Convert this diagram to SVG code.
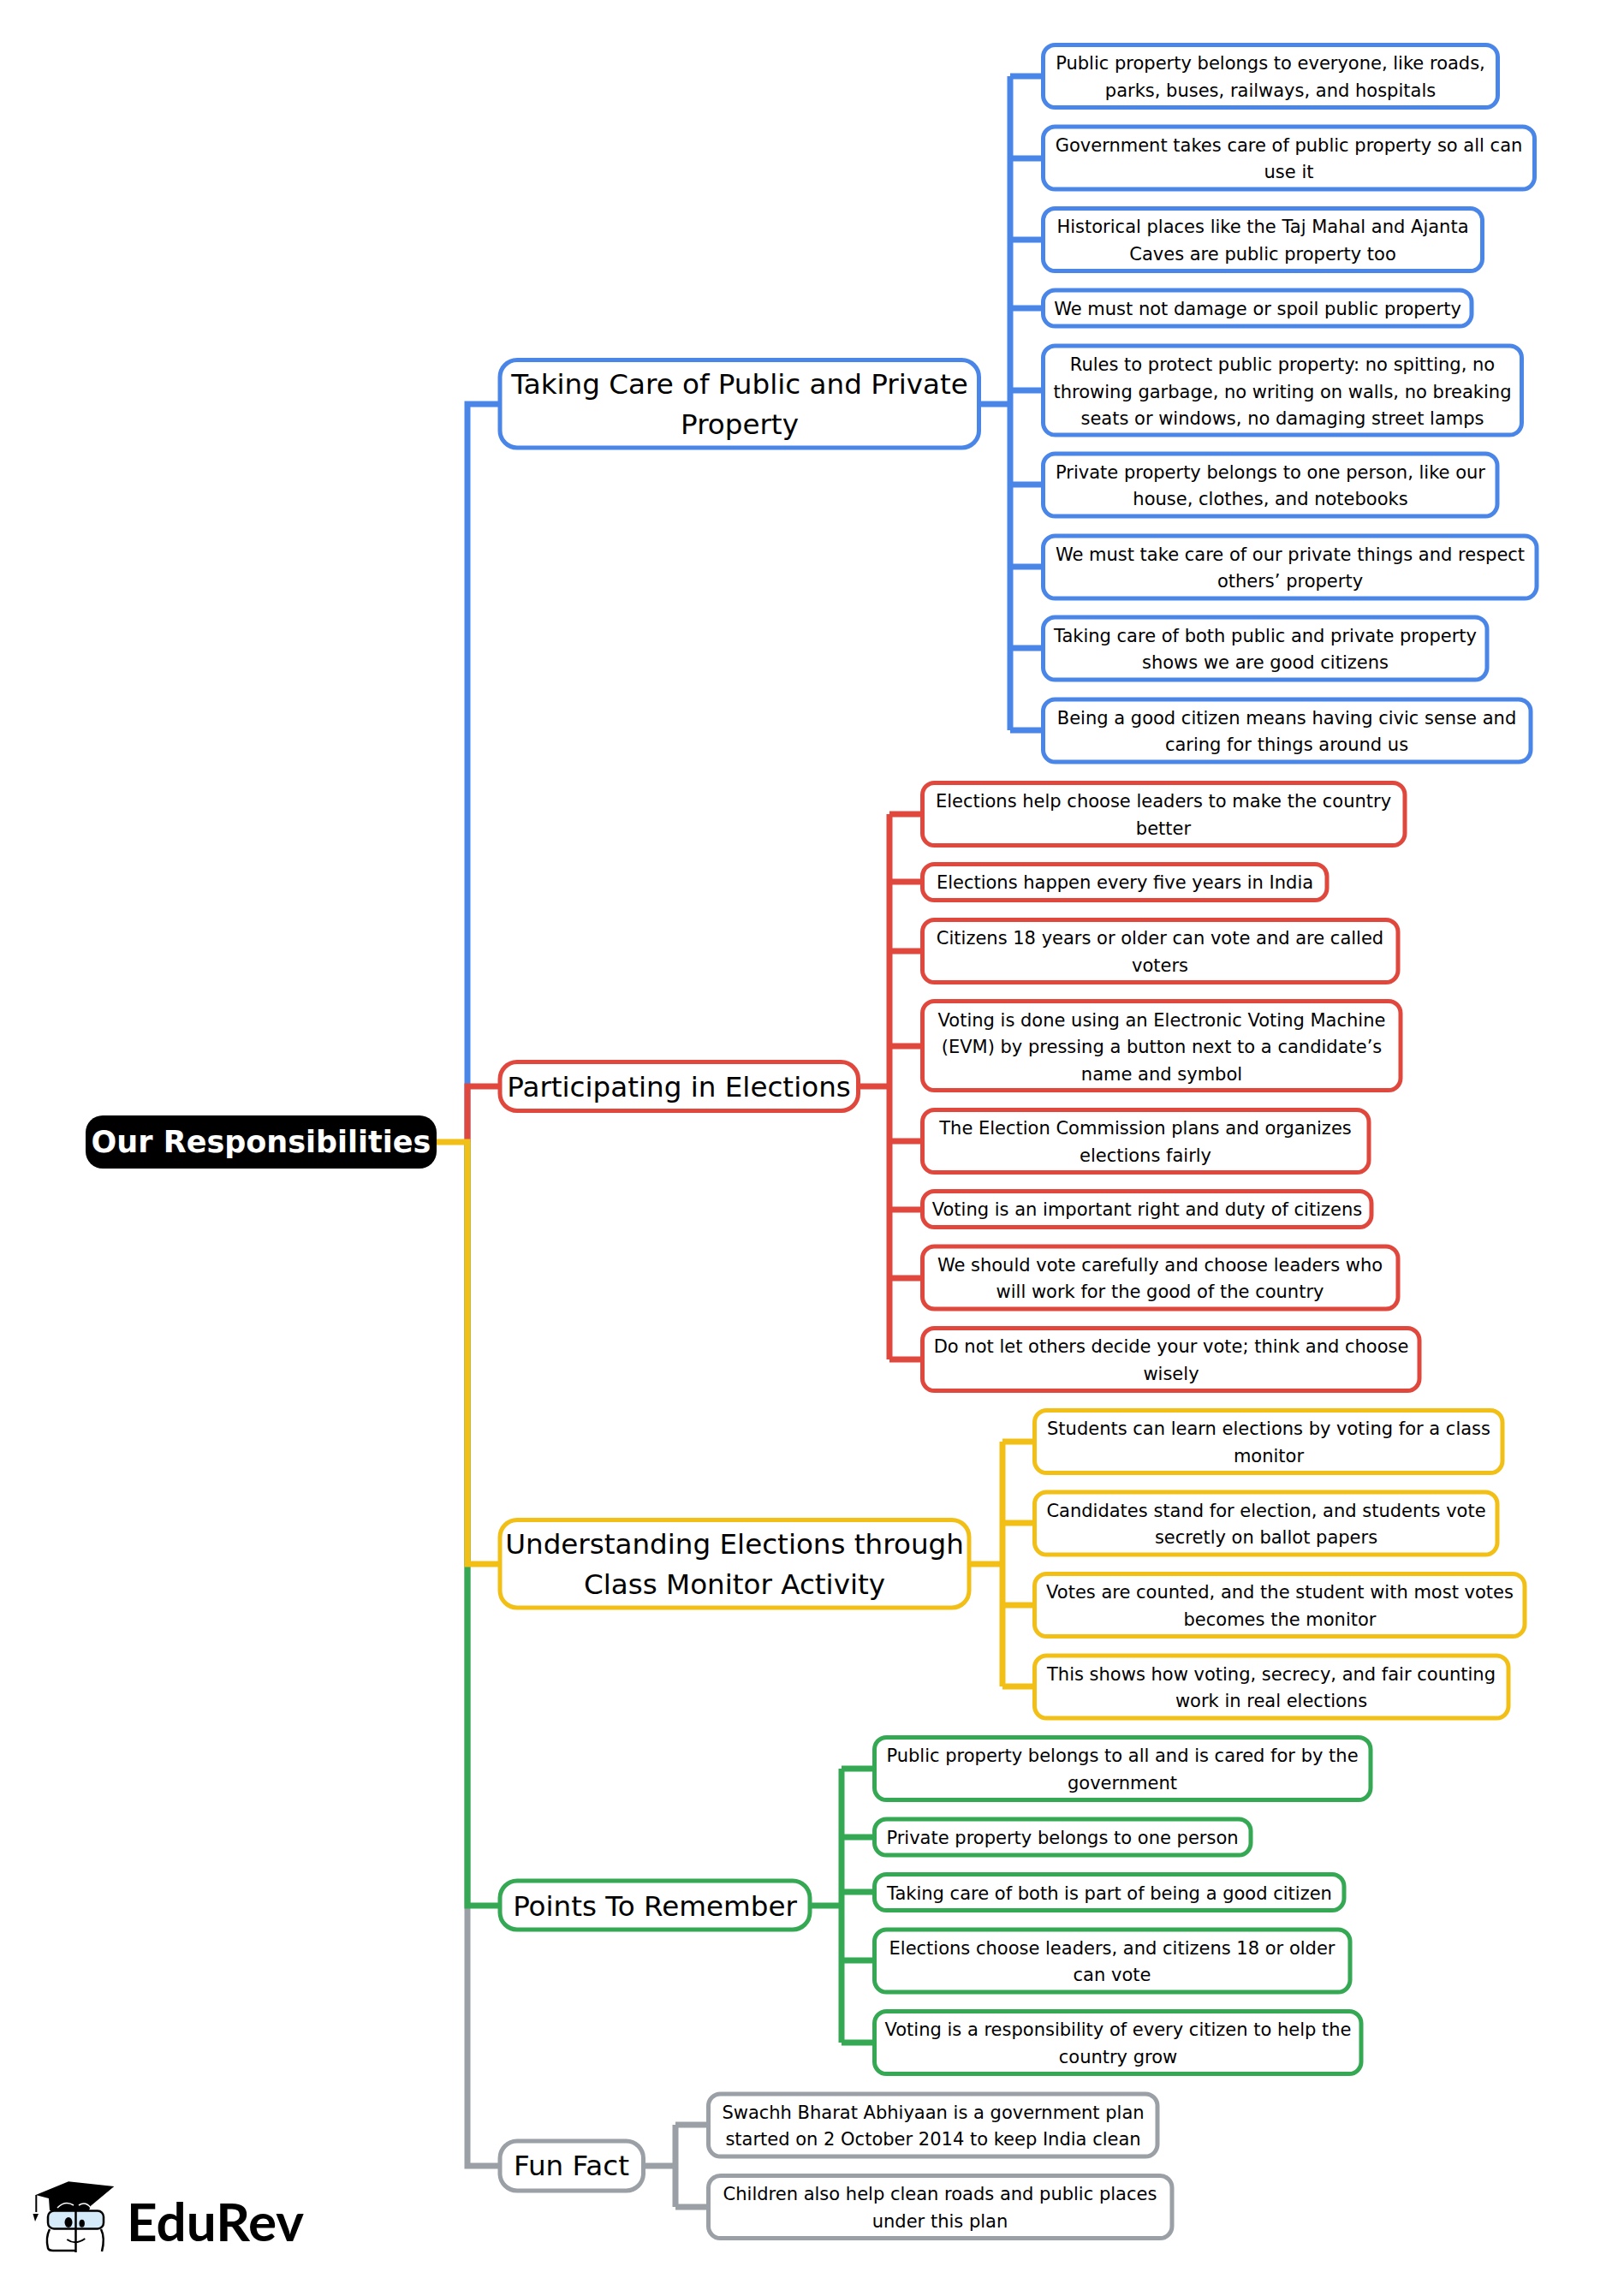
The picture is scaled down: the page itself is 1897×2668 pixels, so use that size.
<svg xmlns="http://www.w3.org/2000/svg" width="1897" height="2668" viewBox="0 0 1897 2668">
<style>
text{font-family:"DejaVu Sans",sans-serif;fill:#000;text-anchor:middle}
.l{font-size:21px}
.m{font-size:32.6px}
.r{font-size:35px;font-weight:bold;fill:#fff}
rect.n{fill:#fff;stroke-width:5}
.c{fill:none;stroke-width:7}
.bl{stroke:#4a86e8}.rd{stroke:#e0483e}.ye{stroke:#f1bf16}.gr{stroke:#34a853}.gy{stroke:#9aa0a6}
</style>
<g id="connectors">
<path class="c bl" d="M1143 472H1180M1180 89V853M1180 89H1217M1180 185H1217M1180 280H1217M1180 360H1217M1180 456H1217M1180 566H1217M1180 662H1217M1180 757H1217M1180 853H1217M546 1334V472H583"/>
<path class="c rd" d="M1003 1269H1039M1039 951V1588M1039 951H1076M1039 1030H1076M1039 1111H1076M1039 1222H1076M1039 1333H1076M1039 1413H1076M1039 1493H1076M1039 1588H1076M546 1334V1269H583"/>
<path class="c gy" d="M752 2530H789M789 2482V2578M789 2482H826M789 2578H826M546 1334V2530H583"/>
<path class="c gr" d="M945 2226H983M983 2066V2386M983 2066H1020M983 2146H1020M983 2210H1020M983 2290H1020M983 2386H1020M546 1334V2226H583"/>
<path class="c ye" d="M1132 1827H1171M1171 1684V1970M1171 1684H1207M1171 1779H1207M1171 1875H1207M1171 1970H1207M510 1334H546V1827H583"/>
</g>
<g id="root"><rect x="100" y="1303" width="410" height="62" rx="20" fill="#000"/><text class="r" x="305" y="1346">Our Responsibilities</text></g>
<g id="n1"><rect class="n bl" x="584" y="420.5" width="559.5" height="102.5" rx="20"/><text class="m" x="864" y="459.5">Taking Care of Public and Private</text><text class="m" x="864" y="507">Property</text></g>
<g id="n2"><rect class="n rd" x="584" y="1240.5" width="418.5" height="57" rx="20"/><text class="m" x="793" y="1281">Participating in Elections</text></g>
<g id="n3"><rect class="n ye" x="584" y="1775.5" width="548" height="102.5" rx="20"/><text class="m" x="858" y="1815">Understanding Elections through</text><text class="m" x="858" y="1862">Class Monitor Activity</text></g>
<g id="n4"><rect class="n gr" x="584" y="2197" width="362" height="57" rx="20"/><text class="m" x="765" y="2238">Points To Remember</text></g>
<g id="n5"><rect class="n gy" x="584" y="2501" width="167.5" height="58" rx="20"/><text class="m" x="667.5" y="2541">Fun Fact</text></g>

<g id="b1"><rect class="n bl" x="1218.5" y="52.5" width="531" height="73" rx="14"/><text class="l" x="1484" y="81">Public property belongs to everyone, like roads,</text><text class="l" x="1484" y="112.5">parks, buses, railways, and hospitals</text></g>
<g id="b2"><rect class="n bl" x="1218.5" y="148" width="574" height="73" rx="14"/><text class="l" x="1505.5" y="176.5">Government takes care of public property so all can</text><text class="l" x="1505.5" y="208">use it</text></g>
<g id="b3"><rect class="n bl" x="1218.5" y="243.5" width="513" height="73" rx="14"/><text class="l" x="1475" y="272">Historical places like the Taj Mahal and Ajanta</text><text class="l" x="1475" y="303.5">Caves are public property too</text></g>
<g id="b4"><rect class="n bl" x="1218.5" y="339" width="500.5" height="42" rx="14"/><text class="l" x="1469" y="368">We must not damage or spoil public property</text></g>
<g id="b5"><rect class="n bl" x="1218.5" y="404" width="559" height="104" rx="14"/><text class="l" x="1498" y="433">Rules to protect public property: no spitting, no</text><text class="l" x="1498" y="464.5">throwing garbage, no writing on walls, no breaking</text><text class="l" x="1498" y="496">seats or windows, no damaging street lamps</text></g>
<g id="b6"><rect class="n bl" x="1218.5" y="530" width="530.5" height="73" rx="14"/><text class="l" x="1484" y="558.5">Private property belongs to one person, like our</text><text class="l" x="1484" y="590">house, clothes, and notebooks</text></g>
<g id="b7"><rect class="n bl" x="1218.5" y="626" width="576.5" height="73" rx="14"/><text class="l" x="1507" y="654.5">We must take care of our private things and respect</text><text class="l" x="1507" y="686">others’ property</text></g>
<g id="b8"><rect class="n bl" x="1218.5" y="721" width="518.5" height="73" rx="14"/><text class="l" x="1478" y="749.5">Taking care of both public and private property</text><text class="l" x="1478" y="781">shows we are good citizens</text></g>
<g id="b9"><rect class="n bl" x="1218.5" y="817" width="569.5" height="73" rx="14"/><text class="l" x="1503" y="845.5">Being a good citizen means having civic sense and</text><text class="l" x="1503" y="877">caring for things around us</text></g>

<g id="r1"><rect class="n rd" x="1077.5" y="914.5" width="563.5" height="73" rx="14"/><text class="l" x="1359" y="943">Elections help choose leaders to make the country</text><text class="l" x="1359" y="974.5">better</text></g>
<g id="r2"><rect class="n rd" x="1077.5" y="1009.5" width="472.5" height="42" rx="14"/><text class="l" x="1314" y="1038">Elections happen every five years in India</text></g>
<g id="r3"><rect class="n rd" x="1077.5" y="1074.5" width="555.5" height="73" rx="14"/><text class="l" x="1355" y="1103">Citizens 18 years or older can vote and are called</text><text class="l" x="1355" y="1134.5">voters</text></g>
<g id="r4"><rect class="n rd" x="1077.5" y="1169.5" width="558.5" height="104" rx="14"/><text class="l" x="1357" y="1198.5">Voting is done using an Electronic Voting Machine</text><text class="l" x="1357" y="1230">(EVM) by pressing a button next to a candidate’s</text><text class="l" x="1357" y="1261.5">name and symbol</text></g>
<g id="r5"><rect class="n rd" x="1077.5" y="1296.5" width="521.5" height="73" rx="14"/><text class="l" x="1338" y="1325">The Election Commission plans and organizes</text><text class="l" x="1338" y="1356.5">elections fairly</text></g>
<g id="r6"><rect class="n rd" x="1077.5" y="1391.5" width="524.5" height="42" rx="14"/><text class="l" x="1340" y="1420">Voting is an important right and duty of citizens</text></g>
<g id="r7"><rect class="n rd" x="1077.5" y="1456" width="555.5" height="73" rx="14"/><text class="l" x="1355" y="1484.5">We should vote carefully and choose leaders who</text><text class="l" x="1355" y="1516">will work for the good of the country</text></g>
<g id="r8"><rect class="n rd" x="1077.5" y="1551.5" width="580.5" height="73" rx="14"/><text class="l" x="1368" y="1580">Do not let others decide your vote; think and choose</text><text class="l" x="1368" y="1611.5">wisely</text></g>

<g id="y1"><rect class="n ye" x="1208.5" y="1647.5" width="546.5" height="73" rx="14"/><text class="l" x="1482" y="1676">Students can learn elections by voting for a class</text><text class="l" x="1482" y="1707.5">monitor</text></g>
<g id="y2"><rect class="n ye" x="1208.5" y="1743" width="540.5" height="73" rx="14"/><text class="l" x="1479" y="1771.5">Candidates stand for election, and students vote</text><text class="l" x="1479" y="1803">secretly on ballot papers</text></g>
<g id="y3"><rect class="n ye" x="1208.5" y="1838.5" width="572.5" height="73" rx="14"/><text class="l" x="1495" y="1867">Votes are counted, and the student with most votes</text><text class="l" x="1495" y="1898.5">becomes the monitor</text></g>
<g id="y4"><rect class="n ye" x="1208.5" y="1934" width="553.5" height="73" rx="14"/><text class="l" x="1485" y="1962.5">This shows how voting, secrecy, and fair counting</text><text class="l" x="1485" y="1994">work in real elections</text></g>

<g id="g1"><rect class="n gr" x="1021.5" y="2029.5" width="579.5" height="73" rx="14"/><text class="l" x="1311" y="2058">Public property belongs to all and is cared for by the</text><text class="l" x="1311" y="2089.5">government</text></g>
<g id="g2"><rect class="n gr" x="1021.5" y="2125" width="439.5" height="42" rx="14"/><text class="l" x="1241" y="2154">Private property belongs to one person</text></g>
<g id="g3"><rect class="n gr" x="1021.5" y="2189.5" width="548.5" height="42" rx="14"/><text class="l" x="1296" y="2218.5">Taking care of both is part of being a good citizen</text></g>
<g id="g4"><rect class="n gr" x="1021.5" y="2254" width="555.5" height="73" rx="14"/><text class="l" x="1299" y="2282.5">Elections choose leaders, and citizens 18 or older</text><text class="l" x="1299" y="2314">can vote</text></g>
<g id="g5"><rect class="n gr" x="1021.5" y="2349.5" width="568.5" height="73" rx="14"/><text class="l" x="1306" y="2378">Voting is a responsibility of every citizen to help the</text><text class="l" x="1306" y="2409.5">country grow</text></g>

<g id="f1"><rect class="n gy" x="827.5" y="2446" width="524.5" height="73" rx="14"/><text class="l" x="1090" y="2474.5">Swachh Bharat Abhiyaan is a government plan</text><text class="l" x="1090" y="2506">started on 2 October 2014 to keep India clean</text></g>
<g id="f2"><rect class="n gy" x="827.5" y="2541.5" width="541.5" height="73" rx="14"/><text class="l" x="1098" y="2570">Children also help clean roads and public places</text><text class="l" x="1098" y="2601.5">under this plan</text></g>
<g id="logo">
<path d="M80 2548.3L133.3 2554L106 2576.7L104 2582H58L57 2568L41.7 2564Z" fill="#000"/>
<path d="M67 2579Q76 2570 86 2576M92 2576Q100 2571 106 2579" fill="none" stroke="#fff" stroke-width="1.5"/>
<path d="M42.3 2564V2584" stroke="#000" stroke-width="2" fill="none"/>
<path d="M38.5 2586L45 2586L41 2595Z" fill="#000"/>
<rect x="56" y="2582.5" width="65" height="21" rx="7" fill="#d6ebf9" stroke="#000" stroke-width="2.5"/>
<path d="M58 2604Q53 2614 56 2626Q57 2629 62 2629H88M118 2604Q123 2614 119 2630" fill="none" stroke="#000" stroke-width="2.5"/>
<path d="M88.5 2581V2631" stroke="#000" stroke-width="2.5" fill="none"/>
<ellipse cx="80" cy="2596" rx="4.5" ry="6" fill="#000"/><ellipse cx="95.7" cy="2597.3" rx="3.2" ry="4.5" fill="#000"/>
<path d="M78.3 2616Q88 2623 99.3 2615" fill="none" stroke="#000" stroke-width="2"/>
<text x="148" y="2618" style="font-family:Lato,sans-serif;font-size:62px;font-weight:700;text-anchor:start">EduRev</text>
</g>
</svg>
